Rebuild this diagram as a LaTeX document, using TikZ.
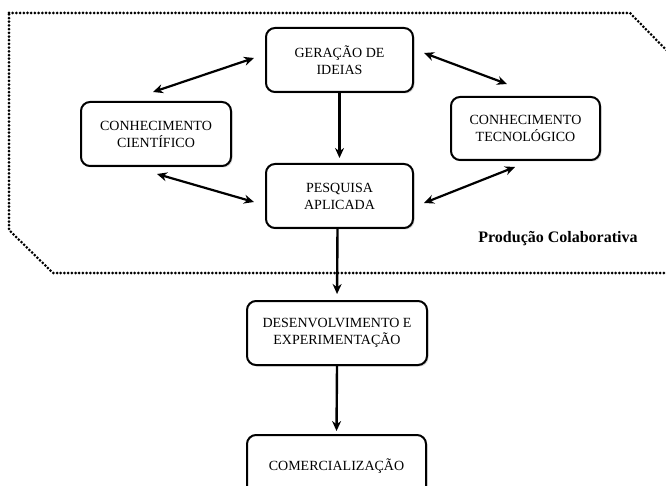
\documentclass[tikz,border=0pt]{standalone}
\usepackage{fontspec}
\setmainfont{Liberation Serif}
\usetikzlibrary{arrows.meta,shadows}
\begin{document}
\begin{tikzpicture}[x=1pt,y=-1pt,
  box/.style={draw, line width=2pt, rounded corners=9pt, fill=white,
    align=center, inner sep=0pt, font=\fontsize{14}{17}\selectfont,
    drop shadow={shadow xshift=1.5pt, shadow yshift=-1.5pt, opacity=0.3}},
  conn/.style={line width=2.4pt, -{Stealth[length=10pt,width=9pt]}},
  dconn/.style={line width=2.2pt, {Stealth[length=10pt,width=9pt]}-{Stealth[length=10pt,width=9pt]}},
  border/.style={line width=3pt, dash pattern=on 0pt off 3.7pt, line cap=round}]
\useasboundingbox (0,0) rectangle (666,486);
\clip (0,0) rectangle (666,486);
\fill[white] (0,0) rectangle (666,486);
\draw[border] (9,13) -- (630,13) -- (680,64) -- (680,273) -- (53,273) -- (9,230) -- cycle;

\node[box, minimum width=147pt, minimum height=64pt] (ger) at (339.5,60) {GERAÇÃO DE\\IDEIAS};
\node[box, minimum width=147pt, minimum height=64pt] (pes) at (339.5,196) {PESQUISA\\APLICADA};
\node[box, minimum width=150pt, minimum height=64pt] (cie) at (156,134) {CONHECIMENTO\\CIENTÍFICO};
\node[box, minimum width=149pt, minimum height=63pt] (tec) at (525.5,128.5) {CONHECIMENTO\\TECNOLÓGICO};
\node[box, minimum width=180pt, minimum height=64pt] (des) at (337,333) {DESENVOLVIMENTO E\\EXPERIMENTAÇÃO};
\node[box, minimum width=179pt, minimum height=64pt, text depth=0pt] (com) at (336.5,467) {\raisebox{4pt}{COMERCIALIZAÇÃO}};
\node[font=\bfseries\fontsize{16}{19}\selectfont] (lab) at (558,239) {Produção Colaborativa};

\draw[conn, shorten >=5pt] (ger.south) -- (pes.north);
\draw[conn, shorten >=6pt] ([xshift=-2pt]pes.south) -- ([xshift=0pt]des.north);
\draw[conn, shorten >=3pt] (des.south) -- (com.north);

\draw[dconn] ([xshift=-11pt,yshift=2pt]ger.west) -- ([xshift=-3pt,yshift=9pt]cie.north);
\draw[dconn] ([xshift=10pt,yshift=7pt]ger.east) -- ([xshift=-18.5pt,yshift=12pt]tec.north);
\draw[dconn] ([xshift=1pt,yshift=-7pt]cie.south) -- ([xshift=-11pt,yshift=-6pt]pes.west);
\draw[dconn] ([xshift=10pt,yshift=-7pt]pes.east) -- ([xshift=-10.5pt,yshift=-6pt]tec.south);
\end{tikzpicture}
\end{document}
